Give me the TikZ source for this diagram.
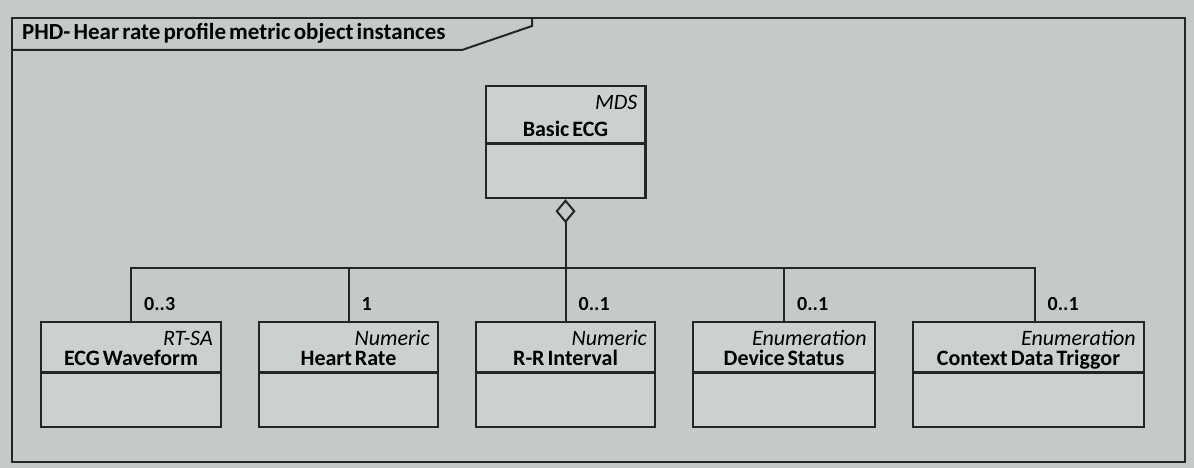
\documentclass[tikz,border=0pt]{standalone}
\usepackage{fontspec}
\setmainfont{Carlito}[WordSpace=0.6]
\usetikzlibrary{
  arrows.meta,
  shapes.multipart,
  positioning
}
\definecolor{phdPaper}{HTML}{C5CAC9}
\definecolor{phdBox}{HTML}{CCD1D0}
\definecolor{phdInk}{HTML}{242626}
\newcommand{\umlhead}[2]{\rule{0pt}{22pt}\hfill\textit{#1}\\\rule[-6pt]{0pt}{6pt}\textbf{#2}}
\tikzset{
  umlclass/.style={
    draw=phdInk, line width=2.4pt, fill=phdBox,
    rectangle split, rectangle split parts=2,
    rectangle split empty part height=52pt,
    rectangle split empty part depth=0pt,
    inner ysep=0pt, inner xsep=8pt, align=flush center, text width=#1,
    font=\fontsize{22}{20}\selectfont
  },
  umlclass/.default=164pt,
  frameline/.style={draw=phdInk, line width=2pt},
  framelabel/.style={font=\fontsize{23}{23}\selectfont\bfseries, inner sep=0pt},
  mult/.style={font=\fontsize{20}{20}\selectfont\bfseries, inner sep=1pt},
  assoc/.style={draw=phdInk, line width=2pt},
  aggr/.style={assoc, -{Diamond[open, length=24pt, width=20pt]}}
}
\begin{document}
\begin{tikzpicture}[x=1pt, y=-1pt]
  \fill[phdPaper] (0,0) rectangle (1194,468);
  \useasboundingbox (0,0) rectangle (1194,468);
  % frame and its name tab
  \draw[frameline] (12,18) rectangle (1185,462);
  \draw[frameline] (12,50) -- (462,50) -- (532,26) -- (532,18);
  \node[framelabel, anchor=base west] (title) at (22,40) {PHD- Hear rate profile metric object instances};

  \node[umlclass=163.6pt, anchor=north west] (ecg) at (40,321) {\umlhead{RT-SA}{ECG Waveform}};
  \node[umlclass=162.6pt, right=36pt of ecg] (hr) {\umlhead{Numeric}{Heart Rate}};
  \node[umlclass=162.6pt, right=36pt of hr] (rr) {\umlhead{Numeric}{R-R Interval}};
  \node[umlclass=165.6pt, right=36pt of rr] (ds) {\umlhead{Enumeration}{Device Status}};
  \node[umlclass=214.6pt, right=36pt of ds] (cdt) {\umlhead{Enumeration}{Context Data Triggor}};

  \node[umlclass=143.6pt, rectangle split empty part height=46pt, anchor=north] (mds) at (rr.north |- 0,85)
    {\rule{0pt}{22pt}\hfill\textit{MDS}\\[7pt]\rule[-6pt]{0pt}{6pt}\textbf{Basic ECG}};

  % aggregation
  \coordinate (hub) at (rr.north |- 0,268);
  \draw[aggr] (hub) -- (mds.south);
  \draw[assoc] (ecg.north) |- (hub);
  \draw[assoc] (hr.north) |- (hub);
  \draw[assoc] (rr.north) -- (hub);
  \draw[assoc] (ds.north) |- (hub);
  \draw[assoc] ([xshift=6pt]cdt.north) |- (hub);

  \node[mult, anchor=south west] (m1) at ([xshift=12pt, yshift=9pt]ecg.north) {0..3};
  \node[mult, anchor=south west] (m2) at ([xshift=12pt, yshift=9pt]hr.north) {1};
  \node[mult, anchor=south west] (m3) at ([xshift=12pt, yshift=9pt]rr.north) {0..1};
  \node[mult, anchor=south west] (m4) at ([xshift=12pt, yshift=9pt]ds.north) {0..1};
  \node[mult, anchor=south west] (m5) at ([xshift=18pt, yshift=9pt]cdt.north) {0..1};
\end{tikzpicture}
\end{document}
